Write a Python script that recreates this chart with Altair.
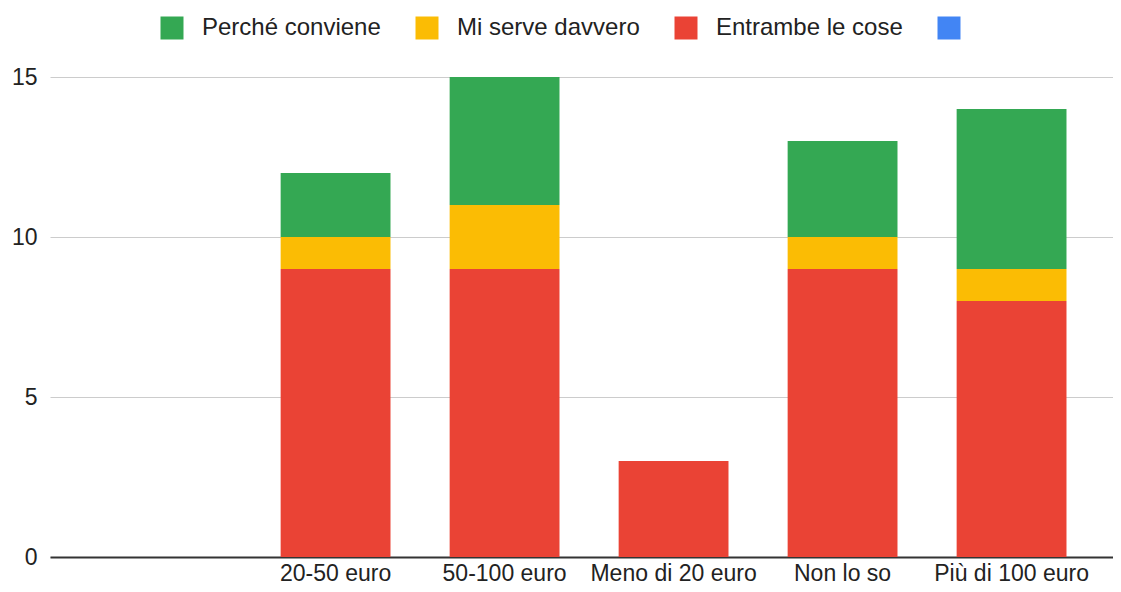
import altair as alt
import pandas as pd

categories = ["20-50 euro", "50-100 euro", "Meno di 20 euro", "Non lo so", "Più di 100 euro"]
entrambe = [9, 9, 3, 9, 8]
mi_serve = [1, 2, 0, 1, 1]
conviene = [2, 4, 0, 3, 5]

series = ["Perché conviene", "Mi serve davvero", "Entrambe le cose", "_"]
colors = ["#34A853", "#FBBC04", "#EA4335", "#4285F4"]
stack_order = {"Entrambe le cose": 0, "Mi serve davvero": 1, "Perché conviene": 2}

rows = []
for i, c in enumerate(categories):
    for s, vals in (("Entrambe le cose", entrambe), ("Mi serve davvero", mi_serve), ("Perché conviene", conviene)):
        if vals[i] > 0:
            rows.append({"cat": c, "serie": s, "val": vals[i], "ord": stack_order[s]})
df = pd.DataFrame(rows)

x_domain = ["_"] + categories

chart = alt.Chart(df).mark_bar().encode(
    x=alt.X("cat:N", title=None,
            scale=alt.Scale(domain=x_domain, paddingInner=0.35, paddingOuter=0.32, align=0.57),
            axis=alt.Axis(labelAngle=0, ticks=False, domainColor="#333333", domainWidth=2,
                          labelFontSize=23, labelColor="#222222", labelPadding=5,
                          labelExpr="datum.label == '_' ? '' : datum.label")),
    y=alt.Y("sum(val):Q", title=None,
            scale=alt.Scale(domain=[0, 15], nice=False),
            axis=alt.Axis(values=[0, 5, 10, 15], domain=False, ticks=False, gridColor="#cccccc",
                          labelFontSize=23, labelColor="#222222", labelPadding=13)),
    color=alt.Color("serie:N", title=None,
                    scale=alt.Scale(domain=series, range=colors),
                    legend=alt.Legend(orient="none", legendX=110, legendY=-61, direction="horizontal",
                                      symbolType="square", symbolSize=529, symbolStrokeWidth=0,
                                      symbolOpacity=1, labelFontSize=24, labelColor="#222222",
                                      labelOffset=18, columnPadding=34, labelLimit=500,
                                      labelExpr="datum.label == '_' ? '' : datum.label")),
    order=alt.Order("ord:Q", sort="ascending"),
).properties(
    width=1063, height=480,
    autosize=alt.AutoSizeParams(type="none"),
    padding={"left": 42, "top": 69, "right": 0, "bottom": 27},
).configure(font="Arial").configure_view(stroke=None)

chart.save("out.html", embed_options={"renderer": "svg", "actions": False})
